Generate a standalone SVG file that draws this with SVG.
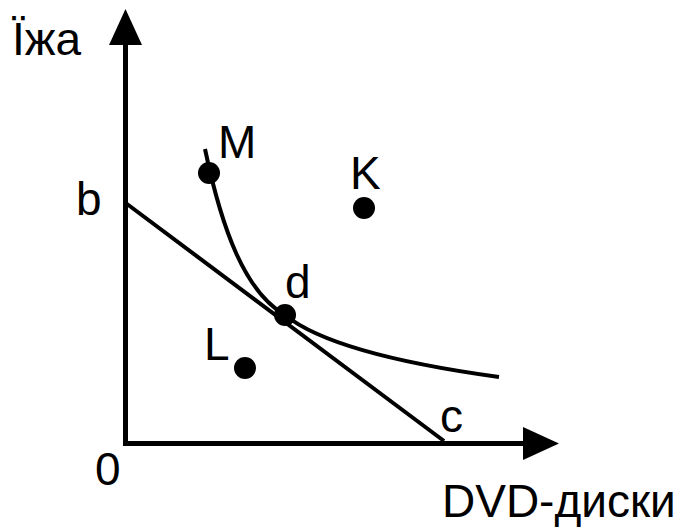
<svg xmlns="http://www.w3.org/2000/svg" width="690" height="527" viewBox="0 0 690 527">
<style>
.t{font-family:"Liberation Sans",Arial,sans-serif;font-size:46px;fill:#000}
.thin{fill:none;stroke:#000;stroke-width:4}
.axis{fill:none;stroke:#000;stroke-width:5}
.dot{fill:#000}
</style>
<rect width="690" height="527" fill="#fff"/>
<g id="axes">
<line class="axis" x1="125.5" y1="444" x2="125.5" y2="40"/>
<polygon points="125.5,9 142,45 109,45" fill="#000"/>
<line class="axis" x1="123" y1="443.5" x2="525" y2="443.5"/>
<polygon points="559,443.5 523,427 523,460" fill="#000"/>
</g>
<g id="connectors">
<line class="thin" x1="127" y1="204" x2="444" y2="441"/>
<path class="thin" d="M205,149 C222,230 245,292 285,315 C312,337 375,360 499,377"/>
</g>
<g id="point-M"><circle class="dot" cx="209" cy="173" r="11"/></g>
<g id="point-K"><circle class="dot" cx="364" cy="208" r="11"/></g>
<g id="point-d"><circle class="dot" cx="285" cy="315" r="11"/></g>
<g id="point-L"><circle class="dot" cx="245" cy="368" r="11"/></g>
<g id="labels">
<text class="t" x="12" y="55">Їжа</text>
<text class="t" x="218" y="158">M</text>
<text class="t" x="350" y="189">K</text>
<text class="t" x="76" y="215">b</text>
<text class="t" x="285" y="298">d</text>
<text class="t" x="204" y="360">L</text>
<text class="t" x="440" y="432">c</text>
<text class="t" x="95" y="485">0</text>
<text class="t" x="442" y="517">DVD-диски</text>
</g>
</svg>
